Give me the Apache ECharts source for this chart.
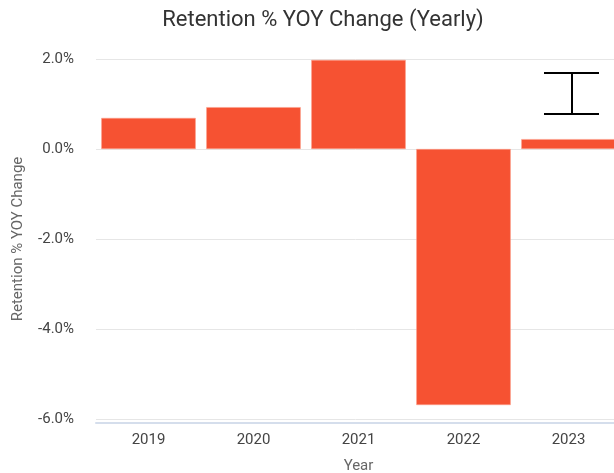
<!DOCTYPE html>
<html>
<head>
<meta charset="utf-8">
<script src="https://cdn.jsdelivr.net/npm/echarts@6/dist/echarts.min.js"></script>
<style>
  html, body { margin: 0; padding: 0; background: #fff; }
  #main { width: 614px; height: 473px; }
</style>
</head>
<body>
<div id="main"></div>
<script>
// data
const years = ['2019', '2020', '2021', '2022', '2023']
const yoyChange = [0.69, 0.93, 1.98, -5.69, 0.22]
const yTicks = [-6, -4, -2, 0, 2]

function renderChart() {
    var chartDom = document.getElementById('main')
    var myChart = echarts.init(chartDom)
    var font = 'Roboto, "Noto Sans", sans-serif'
    var option = {
        animation: false,
        title: {
            text: 'Retention % YOY Change (Yearly)',
            left: 318,
            textAlign: 'center',
            top: 4,
            textStyle: {
                fontFamily: font,
                fontSize: 22,
                fontWeight: 'normal',
                color: '#333',
            },
        },
        grid: {
            left: 96,
            top: 59,
            width: 525,
            height: 360,
            containLabel: false,
            outerBoundsMode: 'none',
        },
        xAxis: {
            type: 'category',
            data: years,
            offset: 4,
            name: 'Year',
            nameLocation: 'middle',
            nameGap: 36,
            nameTextStyle: { fontFamily: font, fontSize: 15, color: '#666' },
            axisLine: { onZero: false, lineStyle: { color: '#d5deec', width: 2 } },
            axisTick: { show: false },
            axisLabel: {
                fontFamily: font,
                fontSize: 15,
                color: '#444',
                margin: 10,
            },
        },
        yAxis: {
            type: 'value',
            min: yTicks[0],
            max: yTicks[yTicks.length - 1],
            interval: 2,
            name: 'Retention % YOY Change',
            nameLocation: 'middle',
            nameGap: 70,
            nameTextStyle: { fontFamily: font, fontSize: 15, color: '#666' },
            axisLine: { show: false },
            axisTick: { show: false },
            splitLine: { lineStyle: { color: '#e6e6e6', width: 1 } },
            axisLabel: {
                fontFamily: font,
                fontSize: 15,
                color: '#444',
                margin: 22,
                formatter: (v) => v.toFixed(1) + '%',
            },
        },
        series: [
            {
                type: 'bar',
                data: yoyChange,
                barCategoryGap: '10%',
                itemStyle: {
                    color: '#f65232',
                    borderColor: '#fba08c',
                    borderWidth: 0.6,
                },
            },
        ],
        // text cursor (I-beam) visible in the screenshot
        graphic: [
            { type: 'line', shape: { x1: 544, y1: 73, x2: 599, y2: 73 }, style: { stroke: '#000', lineWidth: 2 } },
            { type: 'line', shape: { x1: 544, y1: 114, x2: 599, y2: 114 }, style: { stroke: '#000', lineWidth: 2 } },
            { type: 'line', shape: { x1: 572, y1: 73, x2: 572, y2: 114 }, style: { stroke: '#000', lineWidth: 2 } },
        ],
    }
    option && myChart.setOption(option)
}
renderChart()
</script>
</body>
</html>
